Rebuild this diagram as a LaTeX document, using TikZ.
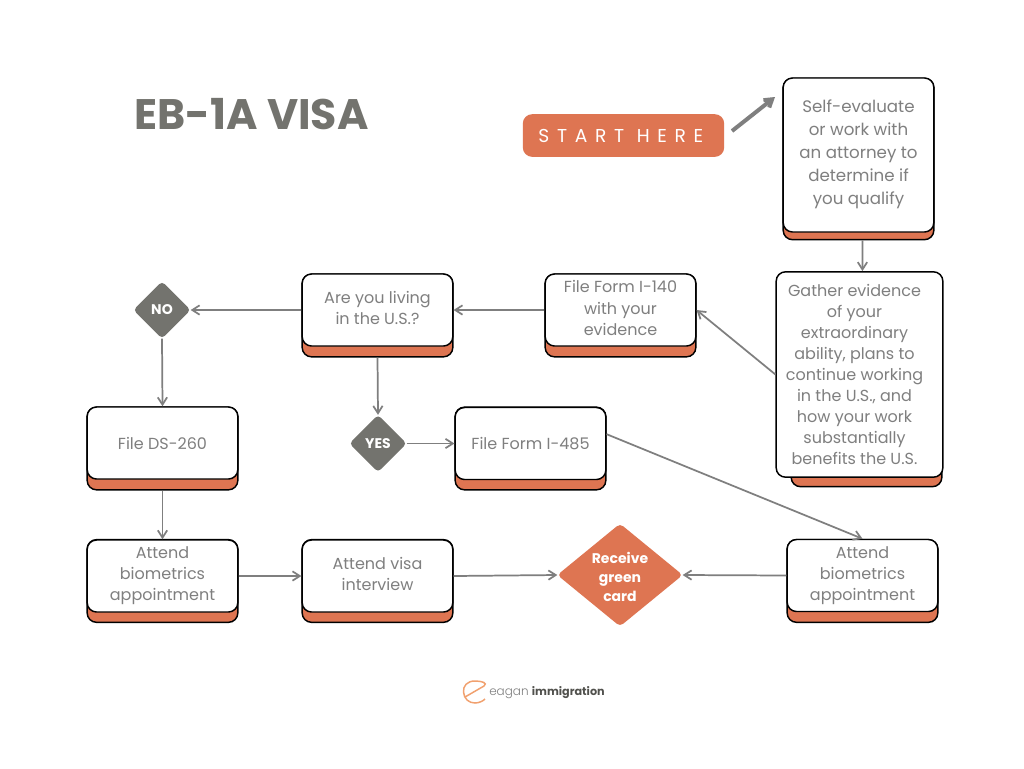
\documentclass[tikz,border=0pt]{standalone}
\usepackage{fontspec}
\setmainfont{Poppins}
\newfontfamily\logolight{Poppins Light}
\usetikzlibrary{arrows, arrows.meta, positioning, shapes.geometric}
\definecolor{clay}{HTML}{DE7552}
\definecolor{slate}{HTML}{73736E}
\definecolor{inkgray}{HTML}{7F7F7F}
\newcommand{\steptext}[2][3pt]{\parbox{106pt}{\centering #2\par\vspace{#1}}}
\tikzset{larrow/.style = {-{Straight Barb[length=.55em,width=.7em]}, draw=inkgray, line width=1.3pt}}
\tikzset{stepbox/.style = {draw=black, fill=white, rounded corners=7pt, line width=1.1pt, align=center, text=inkgray,
    inner sep=0pt, minimum width=113pt, minimum height=54pt, font=\fontsize{12}{15.8}\selectfont}}
\tikzset{backbox/.style = {draw=black, fill=clay, rounded corners=7pt, line width=1.1pt, minimum width=113pt}}
\tikzset{choice/.style = {diamond, fill=slate, rounded corners=3pt, inner sep=0pt, outer sep=0pt, minimum width=43pt, minimum height=43pt,
    text=white, align=center, font=\fontsize{10.5}{13}\bfseries\selectfont}}

\begin{document}
\begin{tikzpicture}[x=.75pt, y=-.75pt]
    \useasboundingbox (0,0) rectangle (1024,768);
    \fill[white] (0,0) rectangle (1024,768);

    \node[text=slate, font=\fontsize{32}{36}\bfseries\selectfont, inner sep=0pt] (title) at (251.5,114) {EB-1A VISA};
    \node[fill=clay, rounded corners=7pt, minimum width=151pt, minimum height=32pt, inner sep=0pt, text=white,
        font=\fontsize{14}{16}\selectfont] (start) at (623.5,135.5) {\hspace*{-2pt}\addfontfeature{LetterSpace=41}START HERE\hspace*{2pt}};
    \coordinate (starttail) at (732,131);
    \coordinate (starthead) at (775,97);

    \node[backbox, minimum height=121pt] (selfback) at (858.5,159) {};
    \node[stepbox, minimum height=115.5pt] (self) at (858.5,155) {\steptext[1.5pt]{\fontsize{12.5}{17.2}\selectfont Self-evaluate\\ or work with\\ an attorney to\\ determine if\\ you qualify}};

    \node[backbox, minimum width=113pt, minimum height=160pt] (gatherback) at (866.5,380) {};
    \node[stepbox, minimum width=125pt, minimum height=154pt] (gather) at (859.5,374.5) {\hspace*{-3.75pt}\steptext[0pt]{Gather evidence\\ of your\\ extraordinary\\ ability, plans to\\ continue working\\ in the U.S., and\\ how your work\\ substantially\\ benefits the U.S.}\hspace*{3.75pt}};

    \node[backbox, minimum height=62pt] (i140back) at (620.5,315.5) {};
    \node[stepbox] (i140) at (620.5,310) {\steptext{File Form I-140\\ with your\\ evidence}};

    \node[backbox, minimum height=62pt] (livingback) at (377.5,315.5) {};
    \node[stepbox] (living) at (377.5,310) {\steptext{Are you living\\ in the U.S.?}};

    \node[choice] (no) at (162,310) {NO};
    \node[choice] (yes) at (378,443.5) {YES};

    \node[backbox, minimum height=62pt] (ds260back) at (162.5,448.5) {};
    \node[stepbox] (ds260) at (162.5,443) {File DS-260};

    \node[backbox, minimum height=62pt] (i485back) at (530.5,448.5) {};
    \node[stepbox] (i485) at (530.5,443.5) {File Form I-485};

    \node[backbox, minimum height=62pt] (bioleftback) at (162.5,581) {};
    \node[stepbox] (bioleft) at (162.5,576) {\steptext[0pt]{Attend\\ biometrics\\ appointment}};

    \node[backbox, minimum height=62pt] (visaback) at (377.5,581) {};
    \node[stepbox] (visa) at (377.5,576) {\steptext{Attend visa\\ interview}};

    \node[backbox, minimum height=62pt] (biorightback) at (862.5,581) {};
    \node[stepbox] (bioright) at (862.5,575.5) {\steptext[0pt]{Attend\\ biometrics\\ appointment}};

    \node[choice, fill=clay, minimum width=94pt, minimum height=77pt, aspect=1.22,
        label={[text=white, align=center, yshift=-1.5pt, font=\fontsize{10.5}{14.2}\bfseries\selectfont]center:Receive\\ green\\ card}] (card) at (620,575) {};

    \draw[larrow, line width=3pt] (starttail) -- (starthead);
    \draw[larrow] ([xshift=3pt]selfback.south) -- ([xshift=2.2pt]gather.north);
    \draw[larrow] (gather.west) -- (i140.east);
    \draw[larrow] (i140.west) -- (living.east);
    \draw[larrow] (living.west) -- (no.east);
    \draw[larrow] (no.south) -- (ds260.north);
    \draw[larrow] (livingback.south) -- (yes.north);
    \draw[larrow] (yes.east) -- (i485.west);
    \draw[larrow] ([yshift=7pt]i485.east) -- (bioright.north);
    \draw[larrow] (ds260back.south) -- (bioleft.north);
    \draw[larrow] (bioleft.east) -- (visa.west);
    \draw[larrow] (visa.east) -- (card.west);
    \draw[larrow] (bioright.west) -- (card.east);

    % logo
    \draw[line width=1.1pt, draw=clay!60!orange!70] (465,697) -- (484,686) .. controls (488,683) and (482,681) .. (475,681)
        .. controls (467,681) and (463,686) .. (463.5,692) .. controls (464,699) and (469,703) .. (475,703)
        .. controls (479,703) and (483,701) .. (485,699);
    \node[text=inkgray, inner sep=0pt, anchor=west, font=\fontsize{9}{10}\selectfont] (logo) at (489,693) {{\logolight eagan} {\fontsize{8.4}{10}\bfseries\selectfont\color{slate!70!black}immigration}};
\end{tikzpicture}
\end{document}
